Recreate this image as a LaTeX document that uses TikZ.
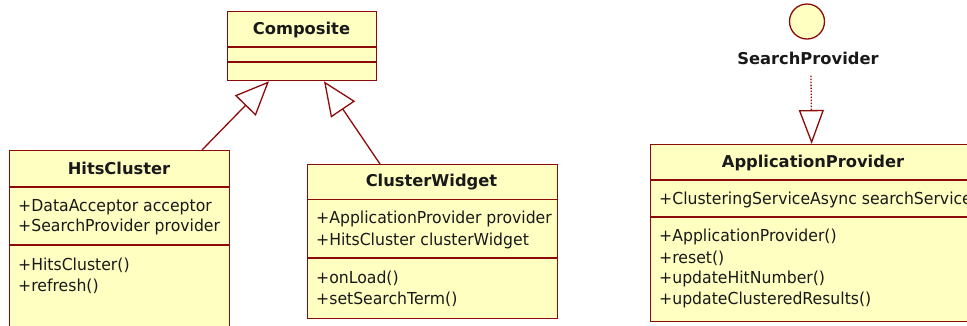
\documentclass[tikz,border=0pt]{standalone}
\usepackage{fontspec}
\usetikzlibrary{arrows.meta}
\newfontfamily\plainuml{DejaVu Sans}[FakeStretch=0.95]
\newfontfamily\titleuml{DejaVu Sans}
\definecolor{umlfill}{RGB}{255,255,194}
\definecolor{umlline}{RGB}{140,10,10}
\tikzset{
  classbox/.style={draw=umlline, fill=umlfill, line width=1.3pt, rectangle,
    anchor=north west, inner sep=0pt},
  sepline/.style={draw=umlline, line width=1.3pt},
  classtitle/.style={font=\titleuml\bfseries\fontsize{16.3pt}{20pt}\selectfont,
    inner sep=0pt, text=black!90},
  member/.style={font=\plainuml\fontsize{16.5pt}{21pt}\selectfont,
    inner sep=0pt, anchor=west, text=black!90},
  inherit/.style={draw=umlline, line width=1.3pt,
    -{Triangle[open, length=34pt, width=29pt, line width=1.3pt]}},
  realize/.style={draw=umlline, line width=1.3pt, dash pattern=on 1.5pt off 1.5pt,
    -{Triangle[open, length=34pt, width=25pt, line width=1.3pt, sep=0pt]}},
  iface/.style={draw=umlline, fill=umlfill, line width=1.3pt, circle,
    minimum size=35pt, inner sep=0pt},
}
\begin{document}
\begin{tikzpicture}[x=1pt, y=-1pt]
\useasboundingbox (0,0) rectangle (967,325);
\begin{scope}
\clip (0,0) rectangle (967,325);

% Composite
\node[classbox, minimum width=149pt, minimum height=69pt] (comp) at (227,11) {};
\draw[sepline] (227,47) -- (376,47);
\draw[sepline] (227,62) -- (376,62);
\node[classtitle] (compT) at (301.5,30) {Composite};

% HitsCluster
\node[classbox, minimum width=220pt, minimum height=200pt] (hc) at (9,150) {};
\draw[sepline] (9,187) -- (229,187);
\draw[sepline] (9,245) -- (229,245);
\node[classtitle] (hcT) at (119,168) {HitsCluster};
\node[member] (hcA1) at (18,207) {+DataAcceptor acceptor};
\node[member] (hcA2) at (18,227) {+SearchProvider provider};
\node[member] (hcM1) at (18,265) {+HitsCluster()};
\node[member] (hcM2) at (18,286) {+refresh()};

% ClusterWidget
\node[classbox, minimum width=250.5pt, minimum height=154pt] (cw) at (306.5,164) {};
\draw[sepline] (306.5,199.5) -- (557,199.5);
\draw[sepline] (306.5,258) -- (557,258);
\node[classtitle] (cwT) at (431.5,182) {ClusterWidget};
\node[member] (cwA1) at (316,219) {+ApplicationProvider provider};
\node[member] (cwA2) at (316,241) {+HitsCluster clusterWidget};
\node[member] (cwM1) at (316,278) {+onLoad()};
\node[member] (cwM2) at (316,299) {+setSearchTerm()};

% ApplicationProvider
\node[classbox, minimum width=326pt, minimum height=177pt] (ap) at (650,144) {};
\draw[sepline] (650,180) -- (976,180);
\draw[sepline] (650,217) -- (976,217);
\node[classtitle] (apT) at (813,163) {ApplicationProvider};
\node[member] (apA1) at (659,200) {+ClusteringServiceAsync searchService};
\node[member] (apM1) at (659,237) {+ApplicationProvider()};
\node[member] (apM2) at (659,258) {+reset()};
\node[member] (apM3) at (659,279) {+updateHitNumber()};
\node[member] (apM4) at (659,300) {+updateClusteredResults()};

% SearchProvider interface
\node[iface] (sp) at (807,21.5) {};
\node[classtitle] (spL) at (808,58) {SearchProvider};

% Connectors
\draw[inherit] ([xshift=193pt]hc.north west) -- ([xshift=42pt]comp.south west);
\draw[inherit] ([xshift=73.5pt]cw.north west) -- ([xshift=97pt]comp.south west);
\draw[realize] ([xshift=3pt, yshift=-11pt]spL.south) -- ([xshift=-2pt]ap.north);
\end{scope}
\end{tikzpicture}
\end{document}
